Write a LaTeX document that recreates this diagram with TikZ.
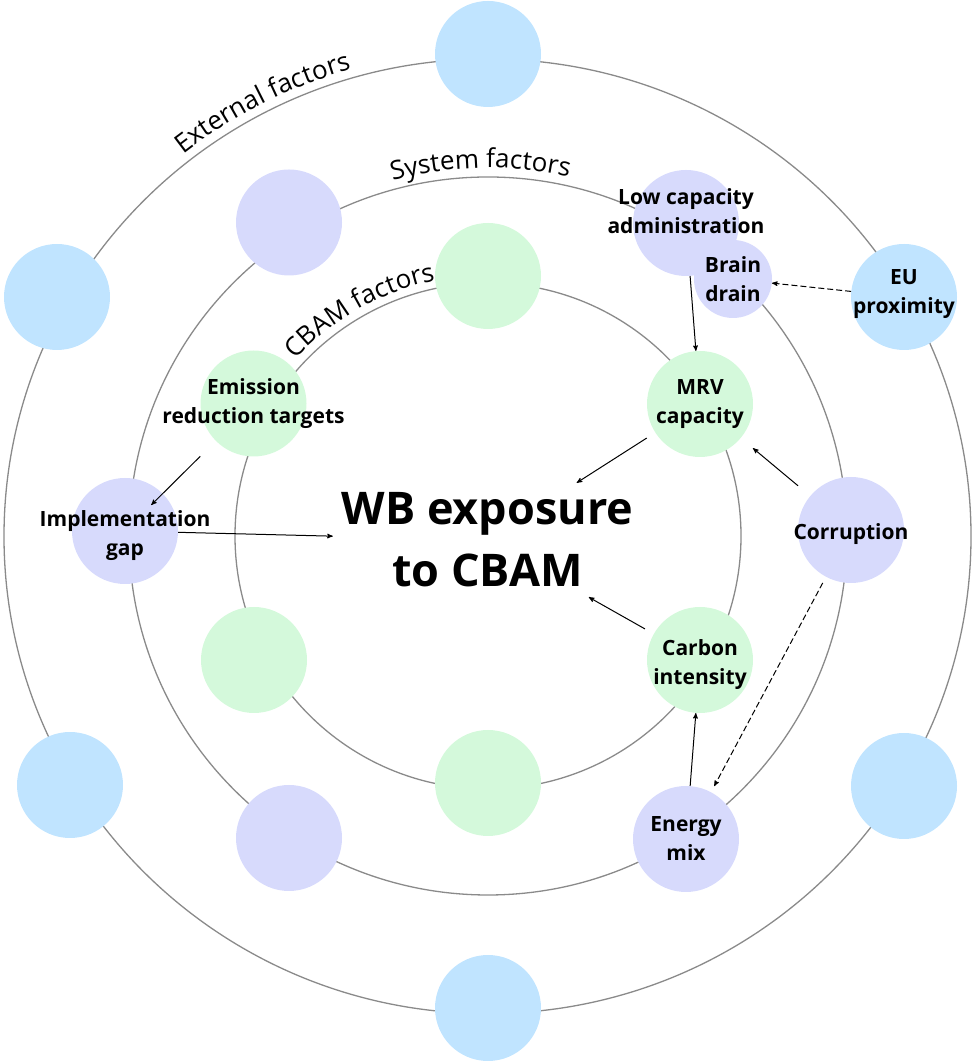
\documentclass[tikz,border=0pt]{standalone}
\usepackage{fontspec}
\setmainfont{Open Sans}
\usetikzlibrary{arrows,decorations.text}
\definecolor{extblue}{HTML}{C0E4FF}
\definecolor{syspurple}{HTML}{D7DAFC}
\definecolor{cbamgreen}{HTML}{D4F9DB}
\definecolor{ringgray}{HTML}{8A8A8A}

\begin{document}
\begin{tikzpicture}[x=1pt,y=1pt,->,>=stealth',
    ring/.style={-,draw=ringgray,line width=1.3pt},
    extc/.style={circle,fill=extblue,minimum size=106pt,inner sep=0pt},
    sysc/.style={circle,fill=syspurple,minimum size=106pt,inner sep=0pt},
    cbamc/.style={circle,fill=cbamgreen,minimum size=106pt,inner sep=0pt},
    lbl/.style={font=\fontsize{21}{29}\selectfont\bfseries,align=center,inner sep=0pt},
    link/.style={line width=1pt,black},
    dlink/.style={link,dash pattern=on 6pt off 3pt}]

    \useasboundingbox (0,0) rectangle (973,1062);

    % rings
    \draw[ring] (487.5,525.7) ellipse [x radius=483.5,y radius=477.3];
    \draw[ring] (488,526) circle [radius=359];
    \draw[ring] (488,526) circle [radius=253];

    % ring names
    \path[decorate,decoration={text along path,text align={left indent=0pt},
          text={|\fontsize{26}{30}\selectfont|External factors}}]
        (487.5,525.7) ++(128.2:492 and 486)
        arc [start angle=128.2,end angle=90,x radius=492,y radius=486];
    \path[decorate,decoration={text along path,text align={left indent=0pt},
          text={|\fontsize{26}{30}\selectfont|System factors}}]
        (488,526) ++(105:368)
        arc [start angle=105,end angle=70,radius=368];
    \path[decorate,decoration={text along path,text align={left indent=0pt},
          text={|\fontsize{26}{30}\selectfont|CBAM factors}}]
        (488,526) ++(137.5:261)
        arc [start angle=137.5,end angle=95,radius=261];

    % external factors
    \node[extc] (exttop) at (488,1008) {};
    \node[extc] (extnw) at (57,765) {};
    \node[extc] (eu) at (904,765) {};
    \node[extc] (extsw) at (70,277) {};
    \node[extc] (extse) at (904,276) {};
    \node[extc] (extbottom) at (488,54) {};

    % system factors
    \node[sysc] (sysnw) at (289,839.5) {};
    \node[sysc] (lowcap) at (686,839) {};
    \node[sysc,
          minimum size=78pt
          ] (brain) at (733,783) {};
    \node[sysc] (impl) at (125,531) {};
    \node[sysc] (corr) at (851,532) {};
    \node[sysc] (energy) at (686,223) {};
    \node[sysc] (syssw) at (289,224) {};

    % cbam factors
    \node[cbamc] (cbamtop) at (488,786) {};
    \node[cbamc] (emis) at (253.5,658.5) {};
    \node[cbamc] (mrv) at (700,658) {};
    \node[cbamc] (carbon) at (700,402) {};
    \node[cbamc] (cbambottom) at (488,279) {};
    \node[cbamc] (cbamsw) at (254,402) {};

    % centre
    \node[rectangle,
          minimum width=309pt,
          minimum height=114pt,
          inner sep=0pt
          ] (wb) at (487.5,522) {};
    \node[font=\fontsize{45}{62}\selectfont\bfseries,
          align=center,
          inner sep=0pt
          ] (wblabel) at (wb.center) {WB exposure\\to CBAM};

    % labels
    \node[lbl] (lowcaplabel) at ([yshift=12pt]lowcap.center) {Low capacity\\administration};
    \node[lbl] (brainlabel) at (brain.center) {Brain\\drain};
    \node[lbl] (eulabel) at ([yshift=3pt]eu.center) {EU\\proximity};
    \node[lbl] (mrvlabel) at (mrv.center) {MRV\\capacity};
    \node[lbl] (corrlabel) at ([yshift=-4pt]corr.center) {Corruption};
    \node[lbl] (carbonlabel) at ([yshift=-5pt]carbon.center) {Carbon\\intensity};
    \node[lbl] (energylabel) at (energy.center) {Energy\\mix};
    \node[lbl] (impllabel) at ([yshift=-5pt]impl.center) {Implementation\\gap};
    \node[lbl] (emislabel) at (emis.center) {Emission\\reduction targets};

    \path[every node/.style={font=\sffamily\small}]
    (lowcap) edge [link] (mrv)
    (eu) edge [dlink] (brain)
    (mrv) edge [link,shorten <=10pt] (wb)
    (corr.center) edge [link,shorten <=69pt,shorten >=69pt] (mrv.center)
    (corr.center) edge [dlink,shorten <=60pt,shorten >=60pt] (energy.center)
    (energy) edge [link] (carbon)
    (carbon) edge [link,shorten <=10pt] (wb)
    (emis.center) edge [link,shorten <=75pt,shorten >=37pt] (impl.center)
    (impl) edge [link] (wb) ;

\end{tikzpicture}
\end{document}
